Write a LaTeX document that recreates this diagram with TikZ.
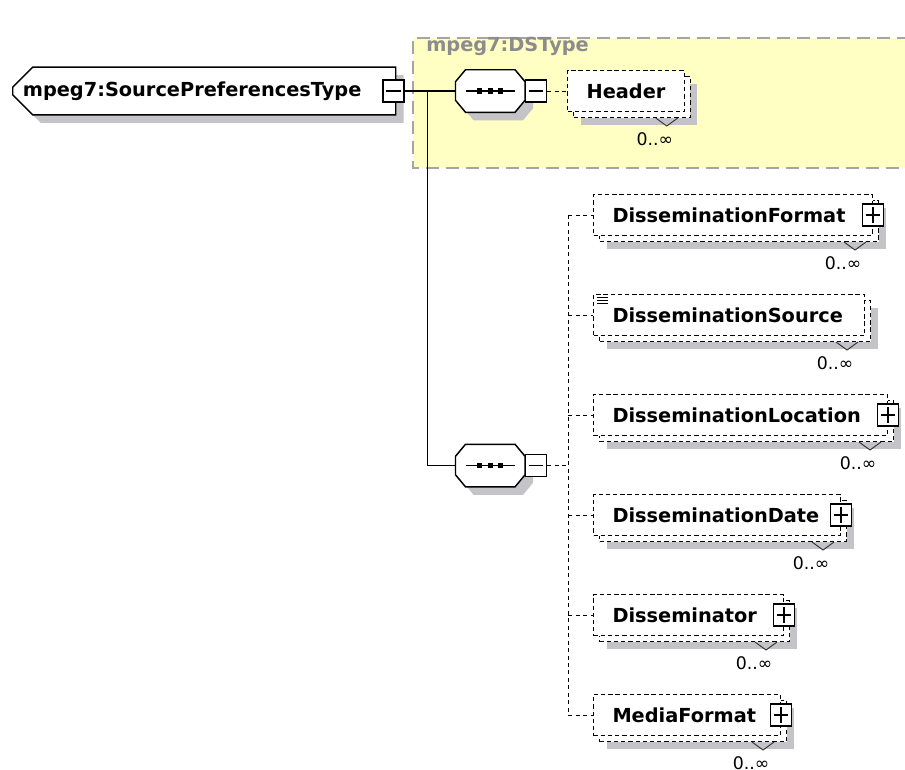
\documentclass[tikz,border=0pt]{standalone}
\usepackage{fontspec}
\setmainfont{DejaVu Sans}
\usepackage{tikz}
\usetikzlibrary{positioning, shapes.misc, shadows}

\definecolor{shadegray}{RGB}{196,196,200}
\definecolor{dsyellow}{RGB}{255,255,196}
\definecolor{dsborder}{RGB}{165,165,165}
\definecolor{dstext}{RGB}{140,140,140}

\tikzset{
  elemfont/.style={font=\bfseries\fontsize{14.5}{17}\selectfont},
  multfont/.style={font=\fontsize{13}{15}\selectfont},
  link/.style={line width=1.1pt},
  dlink/.style={line width=0.75pt, dash pattern=on 3pt off 2.6pt},
  typebox/.style={elemfont, chamfered rectangle, chamfered rectangle corners={north west, south west},
    chamfered rectangle xsep=7.5pt, chamfered rectangle ysep=7.5pt, draw, fill=white, line width=1.1pt,
    minimum width=287.25pt, minimum height=30pt, inner xsep=0pt, text width=272pt, align=left, anchor=west,
    drop shadow={shadow xshift=6pt, shadow yshift=-6pt, fill=shadegray, opacity=1}},
  seqbox/.style={minimum width=51.75pt, minimum height=31.5pt, inner sep=0pt},
  seqline/.style={draw, fill=white, line width=1.1pt, line join=miter,
    preaction={fill=shadegray, transform canvas={shift={(6pt,-6pt)}}}},
  togglebox/.style={draw, fill=white, line width=0.8pt, minimum width=15.75pt, minimum height=16.5pt, inner sep=0pt},
  minusbox/.style={togglebox, path picture={
      \draw[draw=black, line width=0.8pt] ([xshift=2.5pt]path picture bounding box.west) -- ([xshift=-2.5pt]path picture bounding box.east);}},
  plusbox/.style={togglebox, path picture={
      \draw[draw=black, line width=0.8pt] ([xshift=2.5pt]path picture bounding box.west) -- ([xshift=-2.5pt]path picture bounding box.east)
        ([yshift=-2.5pt]path picture bounding box.north) -- ([yshift=2.5pt]path picture bounding box.south);}},
  elem/.style={elemfont, draw, fill=white, line width=0.75pt, dash pattern=on 3.2pt off 2.2pt,
    anchor=west, align=left, inner xsep=14.25pt, inner ysep=0pt, minimum height=30.75pt,
    drop shadow={shadow xshift=9.75pt, shadow yshift=-9.75pt, fill=shadegray, opacity=1},
    general shadow={shadow xshift=4.5pt, shadow yshift=-4.5pt, fill=white, draw=black,
      line width=0.75pt, dash pattern=on 3.2pt off 2.2pt}},
  vmark/.style={line width=0.7pt, draw=black!80},
  mult/.style={multfont, inner sep=0pt}
}

% octagon of a sequence compositor, drawn round an empty node
\newcommand{\seqoutline}[1]{%
  \draw[seqline] ([xshift=7.5pt]#1.north west) -- ([xshift=-7.5pt]#1.north east) -- ([yshift=-9pt]#1.north east)
    -- ([yshift=9pt]#1.south east) -- ([xshift=-7.5pt]#1.south east) -- ([xshift=7.5pt]#1.south west)
    -- ([yshift=9pt]#1.south west) -- ([yshift=-9pt]#1.north west) -- cycle;
  \draw[line width=0.9pt] ([xshift=-18.4pt]#1.center) -- ([xshift=18.4pt]#1.center);
  \foreach \d in {-7.8pt,0pt,7.8pt}
    \fill ([xshift=\d]#1.center) +(-1.9pt,-1.9pt) rectangle +(1.9pt,1.9pt);
}

\begin{document}
\begin{tikzpicture}[x=0.75pt, y=-0.75pt]
  \useasboundingbox (0,0) rectangle (905,769);

  % group of mpeg7:DSType
  \fill[dsyellow] (413,38) rectangle (930,168);
  \draw[dsborder, line width=1.2pt, dash pattern=on 10pt off 5pt] (930,38) -- (413,38) -- (413,168) -- (930,168);
  \node[elemfont, text=dstext, anchor=base west, inner sep=0pt] (dslabel) at (426,51) {mpeg7:DSType};

  % root type and sequences
  \node[typebox] (root) at (12,91) {mpeg7:SourcePreferencesType};
  \node[minusbox] (rootm) at ([xshift=-2.25pt]root.east) {};
  \node[seqbox, right=38.25pt of rootm] (seq1) {};
  \node[seqbox, below=249pt of seq1] (seq2) {};
  \seqoutline{seq1}
  \seqoutline{seq2}
  \node[minusbox, right=0pt of seq1] (seq1m) {};
  \node[minusbox, right=0pt of seq2] (seq2m) {};
  \coordinate (fork) at ([xshift=17.25pt]rootm.east);
  \coordinate[right=15.75pt of seq2m] (rail);

  % elements
  \node[elem, right=15pt of seq1m, text width=59pt] (hdr) {Header};
  \node[elem, text width=180.75pt] (fmt) at (593,215) {DisseminationFormat};
  \node[elem, text width=174.75pt] (src) at (593,315) {DisseminationSource};
  \node[elem, text width=192pt] (loc) at (593,415) {DisseminationLocation};
  \node[elem, text width=156.75pt] (date) at (593,515) {DisseminationDate};
  \node[elem, text width=114pt] (dis) at (593,615) {Disseminator};
  \node[elem, text width=111.75pt] (media) at (593,715) {MediaFormat};

  \foreach \k in {2.25pt,4.8pt,7.35pt}
    \draw[line width=0.6pt] ([xshift=3pt, yshift=-\k]src.north west) -- ++(8.25pt,0pt);

  \foreach \n in {fmt,loc,date,dis,media}
    \node[plusbox] (\n-plus) at (\n.east) {};

  \foreach \n in {hdr,fmt,src,loc,date,dis,media}{
    \draw[vmark] ([xshift=-21.75pt, yshift=-4.5pt]\n.south east) -- ++(8.25pt,-6pt) -- ++(8.25pt,6pt);
    \node[mult] (\n-mult) at ([xshift=-22.5pt, yshift=-20.25pt]\n.south east) {0..∞};
  }

  % connectors
  \draw[link] (rootm.east) -- (seq1.west);
  \draw[link] (fork) |- (seq2.west);
  \draw[dlink] (seq1m.east) -- (hdr.west);
  \draw[dlink] (seq2m.east) -- (rail);
  \draw[dlink] (rail |- fmt.west) -- (rail |- media.west);
  \foreach \n in {fmt,src,loc,date,dis,media}
    \draw[dlink] (rail |- \n.west) -- (\n.west);
\end{tikzpicture}
\end{document}
